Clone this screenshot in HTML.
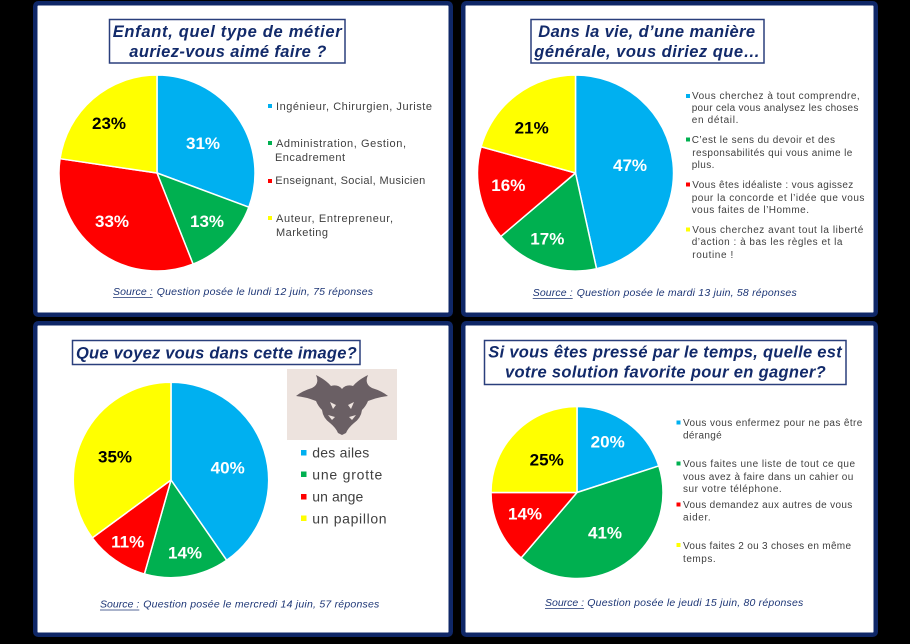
<!DOCTYPE html>
<html><head><meta charset="utf-8"><style>
html,body{margin:0;padding:0;background:#000;}
svg{display:block;}
.t{font-family:"Liberation Sans",sans-serif;font-style:italic;font-weight:bold;font-size:16.5px;fill:#122a6a;}
.p{font-family:"Liberation Sans",sans-serif;font-weight:bold;font-size:17px;text-anchor:middle;}
.l{font-family:"Liberation Sans",sans-serif;font-size:11px;fill:#404040;}
.s{font-family:"Liberation Sans",sans-serif;font-size:10px;fill:#404040;}
.b{font-family:"Liberation Sans",sans-serif;font-size:14px;fill:#404040;}
.src{font-family:"Liberation Sans",sans-serif;font-style:italic;font-size:10.5px;fill:#1c3575;}
</style></head><body>
<svg width="910" height="644" viewBox="0 0 910 644" xmlns="http://www.w3.org/2000/svg">
<rect width="910" height="644" fill="#000"/>
<!-- panels -->
<rect x="35.25" y="3.25" width="415.5" height="311.5" rx="3" fill="#fff" stroke="#0f2767" stroke-width="4.5"/>
<rect x="463.25" y="3.25" width="412.5" height="311.5" rx="3" fill="#fff" stroke="#0f2767" stroke-width="4.5"/>
<rect x="35.25" y="323.25" width="415.5" height="311.5" rx="3" fill="#fff" stroke="#0f2767" stroke-width="4.5"/>
<rect x="463.25" y="323.25" width="412.5" height="311.5" rx="3" fill="#fff" stroke="#0f2767" stroke-width="4.5"/>

<!-- PANEL 1 -->
<rect x="109.5" y="19.5" width="235.5" height="43.5" fill="#fff" stroke="#2a3f7c" stroke-width="1.5"/>
<text class="t" x="112.7" y="37" textLength="229" lengthAdjust="spacing">Enfant, quel type de métier</text>
<text class="t" x="129.3" y="57" textLength="197" lengthAdjust="spacing">auriez-vous aimé faire ?</text>
<g stroke="#fff" stroke-width="1.5" stroke-linejoin="round">
<path d="M157,173 L157,75 A98,98 0 0 1 248.86,207.16 Z" fill="#00b0f0"/>
<path d="M157,173 L248.86,207.16 A98,98 0 0 1 193.07,264.12 Z" fill="#00b050"/>
<path d="M157,173 L193.07,264.12 A98,98 0 0 1 60.05,158.68 Z" fill="#ff0000"/>
<path d="M157,173 L60.05,158.68 A98,98 0 0 1 157,75 Z" fill="#ffff00"/>
</g>
<text class="p" x="203" y="149" fill="#fff">31%</text>
<text class="p" x="207" y="227" fill="#fff">13%</text>
<text class="p" x="112" y="227" fill="#fff">33%</text>
<text class="p" x="109" y="129" fill="#000">23%</text>
<rect x="268" y="104" width="4" height="4" fill="#00b0f0"/>
<rect x="268" y="141" width="4" height="4" fill="#00b050"/>
<rect x="268" y="179" width="4" height="4" fill="#ff0000"/>
<rect x="268" y="216" width="4" height="4" fill="#ffff00"/>
<text class="l" x="276" y="110" textLength="156" lengthAdjust="spacing">Ingénieur, Chirurgien, Juriste</text>
<text class="l" x="276" y="147" textLength="130" lengthAdjust="spacing">Administration, Gestion,</text>
<text class="l" x="275" y="161" textLength="70" lengthAdjust="spacing">Encadrement</text>
<text class="l" x="275.3" y="184" textLength="150" lengthAdjust="spacing">Enseignant, Social, Musicien</text>
<text class="l" x="276" y="222" textLength="117" lengthAdjust="spacing">Auteur, Entrepreneur,</text>
<text class="l" x="276" y="236" textLength="52" lengthAdjust="spacing">Marketing</text>
<text class="src" x="113" y="295" textLength="39.7" lengthAdjust="spacing">Source :</text>
<text class="src" x="156.7" y="295" textLength="216.3" lengthAdjust="spacing">Question posée le lundi 12 juin, 75 réponses</text>
<line x1="113" y1="297.5" x2="152.7" y2="297.5" stroke="#1c3575" stroke-width="0.8"/>

<!-- PANEL 2 -->
<rect x="531" y="19.5" width="233" height="43.5" fill="#fff" stroke="#2a3f7c" stroke-width="1.5"/>
<text class="t" x="538.3" y="37" textLength="216.7" lengthAdjust="spacing">Dans la vie, d’une manière</text>
<text class="t" x="534.3" y="57" textLength="225.7" lengthAdjust="spacing">générale, vous diriez que…</text>
<g stroke="#fff" stroke-width="1.5" stroke-linejoin="round">
<path d="M575.5,173 L575.5,75 A98,98 0 0 1 596.54,268.72 Z" fill="#00b0f0"/>
<path d="M575.5,173 L596.54,268.72 A98,98 0 0 1 500.8,236.44 Z" fill="#00b050"/>
<path d="M575.5,173 L500.8,236.44 A98,98 0 0 1 481.08,146.78 Z" fill="#ff0000"/>
<path d="M575.5,173 L481.08,146.78 A98,98 0 0 1 575.5,75 Z" fill="#ffff00"/>
</g>
<text class="p" x="630" y="171" fill="#fff">47%</text>
<text class="p" x="547.3" y="244.3" fill="#fff">17%</text>
<text class="p" x="508.3" y="191" fill="#fff">16%</text>
<text class="p" x="531.7" y="133.7" fill="#000">21%</text>
<rect x="686" y="94" width="4" height="4" fill="#00b0f0"/>
<rect x="686" y="137.5" width="4" height="4" fill="#00b050"/>
<rect x="686" y="182.5" width="4" height="4" fill="#ff0000"/>
<rect x="686" y="227.5" width="4" height="4" fill="#ffff00"/>
<text class="s" x="692" y="99" textLength="167.7" lengthAdjust="spacing">Vous cherchez à tout comprendre,</text>
<text class="s" x="691.7" y="111" textLength="166.7" lengthAdjust="spacing">pour cela vous analysez les choses</text>
<text class="s" x="691.7" y="123" textLength="46.7" lengthAdjust="spacing">en détail.</text>
<text class="s" x="691.7" y="143" textLength="143.3" lengthAdjust="spacing">C’est le sens du devoir et des</text>
<text class="s" x="692.3" y="156" textLength="160" lengthAdjust="spacing">responsabilités qui vous anime le</text>
<text class="s" x="691.7" y="168" textLength="22.7" lengthAdjust="spacing">plus.</text>
<text class="s" x="692.3" y="188" textLength="161" lengthAdjust="spacing">Vous êtes idéaliste : vous agissez</text>
<text class="s" x="691.7" y="201" textLength="172.7" lengthAdjust="spacing">pour la concorde et l’idée que vous</text>
<text class="s" x="691.7" y="213" textLength="117.3" lengthAdjust="spacing">vous faites de l’Homme.</text>
<text class="s" x="692.3" y="233" textLength="171" lengthAdjust="spacing">Vous cherchez avant tout la liberté</text>
<text class="s" x="691.7" y="245" textLength="150.7" lengthAdjust="spacing">d’action : à bas les règles et la</text>
<text class="s" x="692.3" y="258" textLength="41" lengthAdjust="spacing">routine !</text>
<text class="src" x="532.7" y="296" textLength="40" lengthAdjust="spacing">Source :</text>
<text class="src" x="576.7" y="296" textLength="220" lengthAdjust="spacing">Question posée le mardi 13 juin, 58 réponses</text>
<line x1="532.7" y1="298.5" x2="572.7" y2="298.5" stroke="#1c3575" stroke-width="0.8"/>

<!-- PANEL 3 -->
<rect x="72.5" y="340.5" width="287.5" height="24" fill="#fff" stroke="#2a3f7c" stroke-width="1.5"/>
<text class="t" x="76" y="358.3" textLength="280.7" lengthAdjust="spacing">Que voyez vous dans cette image?</text>
<g stroke="#fff" stroke-width="1.5" stroke-linejoin="round">
<path d="M171,480 L171,382.3 A97.7,97.7 0 0 1 226.68,560.28 Z" fill="#00b0f0"/>
<path d="M171,480 L226.68,560.28 A97.7,97.7 0 0 1 144.4,574.01 Z" fill="#00b050"/>
<path d="M171,480 L144.4,574.01 A97.7,97.7 0 0 1 92.31,537.91 Z" fill="#ff0000"/>
<path d="M171,480 L92.31,537.91 A97.7,97.7 0 0 1 171,382.3 Z" fill="#ffff00"/>
</g>
<text class="p" x="227.7" y="473.3" fill="#fff">40%</text>
<text class="p" x="185" y="558.3" fill="#fff">14%</text>
<text class="p" x="127.7" y="547.7" fill="#fff">11%</text>
<text class="p" x="115" y="462.7" fill="#000">35%</text>
<!-- inkblot -->
<rect x="287" y="369" width="110" height="71" fill="#ede3de"/>
<path d="M342,389 Q338,384 331,386 Q326,380 316,375 Q320,384 312,388 Q302,391 296,396 Q306,397 316,401 Q318,406 322,410 Q323,418 330,423 Q336,428 338,433 L342,435 L346,433 Q348,428 354,423 Q361,418 362,410 Q366,406 368,401 Q378,397 388,396 Q382,391 372,388 Q364,384 368,375 Q358,380 353,386 Q346,384 342,389 Z" fill="#6a5f64"/>
<polygon points="330,402 336,405 333,409" fill="#ede3de"/>
<polygon points="354,402 348,405 351,409" fill="#ede3de"/>
<polygon points="328,415 335,417 332,420" fill="#ede3de"/>
<polygon points="356,415 349,417 352,420" fill="#ede3de"/>
<rect x="301" y="450" width="5.5" height="5.5" fill="#00b0f0"/>
<rect x="301" y="471.5" width="5.5" height="5.5" fill="#00b050"/>
<rect x="301" y="494" width="5.5" height="5.5" fill="#ff0000"/>
<rect x="301" y="515.5" width="5.5" height="5.5" fill="#ffff00"/>
<text class="b" x="312.3" y="457.7" textLength="57" lengthAdjust="spacing">des ailes</text>
<text class="b" x="312.3" y="479.3" textLength="70" lengthAdjust="spacing">une grotte</text>
<text class="b" x="312.3" y="501.7" textLength="51" lengthAdjust="spacing">un ange</text>
<text class="b" x="312.3" y="523.3" textLength="74.3" lengthAdjust="spacing">un papillon</text>
<text class="src" x="100" y="607.5" textLength="39.3" lengthAdjust="spacing">Source :</text>
<text class="src" x="143.3" y="607.5" textLength="236" lengthAdjust="spacing">Question posée le mercredi 14 juin, 57 réponses</text>
<line x1="100" y1="610" x2="139.3" y2="610" stroke="#1c3575" stroke-width="0.8"/>

<!-- PANEL 4 -->
<rect x="484.5" y="340.5" width="361.5" height="44" fill="#fff" stroke="#2a3f7c" stroke-width="1.5"/>
<text class="t" x="488.3" y="357.7" textLength="353.4" lengthAdjust="spacing">Si vous êtes pressé par le temps, quelle est</text>
<text class="t" x="505" y="377.7" textLength="320.7" lengthAdjust="spacing">votre solution favorite pour en gagner?</text>
<g stroke="#fff" stroke-width="1.5" stroke-linejoin="round">
<path d="M577,492.5 L577,406.5 A86,86 0 0 1 658.79,465.92 Z" fill="#00b0f0"/>
<path d="M577,492.5 L658.79,465.92 A86,86 0 0 1 521.15,557.9 Z" fill="#00b050"/>
<path d="M577,492.5 L521.15,557.9 A86,86 0 0 1 491,492.5 Z" fill="#ff0000"/>
<path d="M577,492.5 L491,492.5 A86,86 0 0 1 577,406.5 Z" fill="#ffff00"/>
</g>
<text class="p" x="607.7" y="447.7" fill="#fff">20%</text>
<text class="p" x="605" y="538.3" fill="#fff">41%</text>
<text class="p" x="525" y="519.3" fill="#fff">14%</text>
<text class="p" x="546.7" y="465.3" fill="#000">25%</text>
<rect x="676.5" y="420.5" width="4" height="4" fill="#00b0f0"/>
<rect x="676.5" y="461.5" width="4" height="4" fill="#00b050"/>
<rect x="676.5" y="502.5" width="4" height="4" fill="#ff0000"/>
<rect x="676.5" y="543" width="4" height="4" fill="#ffff00"/>
<text class="s" x="683" y="426" textLength="179.3" lengthAdjust="spacing">Vous vous enfermez pour ne pas être</text>
<text class="s" x="683" y="438.5" textLength="38.7" lengthAdjust="spacing">dérangé</text>
<text class="s" x="683" y="467" textLength="172" lengthAdjust="spacing">Vous faites une liste de tout ce que</text>
<text class="s" x="683" y="480" textLength="170.3" lengthAdjust="spacing">vous avez à faire dans un cahier ou</text>
<text class="s" x="683" y="492" textLength="98.7" lengthAdjust="spacing">sur votre téléphone.</text>
<text class="s" x="683" y="508" textLength="169.3" lengthAdjust="spacing">Vous demandez aux autres de vous</text>
<text class="s" x="683" y="520.5" textLength="27.7" lengthAdjust="spacing">aider.</text>
<text class="s" x="683" y="549" textLength="168" lengthAdjust="spacing">Vous faites 2 ou 3 choses en même</text>
<text class="s" x="683" y="562" textLength="32.7" lengthAdjust="spacing">temps.</text>
<text class="src" x="545" y="606" textLength="39" lengthAdjust="spacing">Source :</text>
<text class="src" x="587.3" y="606" textLength="216" lengthAdjust="spacing">Question posée le jeudi 15 juin, 80 réponses</text>
<line x1="545" y1="608.5" x2="584" y2="608.5" stroke="#1c3575" stroke-width="0.8"/>
</svg>
</body></html>
